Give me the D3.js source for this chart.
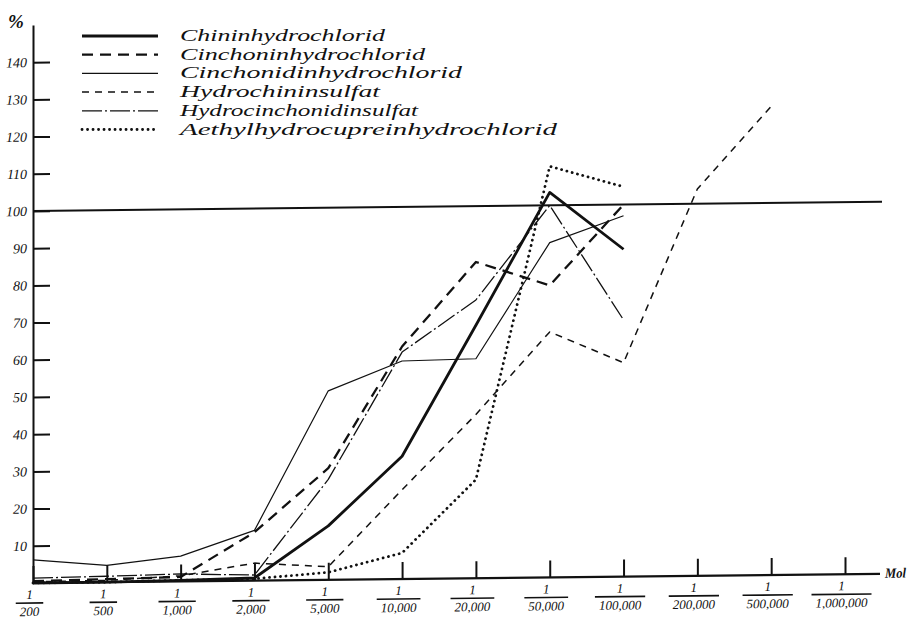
<!DOCTYPE html>
<html>
<head>
<meta charset="utf-8">
<title>Chinin-Alkaloide</title>
<script src="https://d3js.org/d3.v7.min.js"></script>
<style>
  body { margin: 0; background: #fff; }
  svg { display: block; }
</style>
</head>
<body>
<div id="chart"></div>
<script>

// dilution steps (1 : n)
const categories = ["200", "500", "1,000", "2,000", "5,000", "10,000", "20,000",
                    "50,000", "100,000", "200,000", "500,000", "1,000,000"];
const yTicks = [10, 20, 30, 40, 50, 60, 70, 80, 90, 100, 110, 120, 130, 140];

// series values in %, read from the plate (null = not measured)
const chinin           = [0, 0, 0.3, 0.7, 14.5, 33, 68, 103.5, 88, null, null, null];
const cinchonin        = [0.5, 0.8, 1.2, 13, 30, 62.5, 85, 78.5, 100, null, null, null];
const cinchonidin      = [6.2, 4.5, 6.8, 13.5, 50.8, 58.6, 59, 90, 97, null, null, null];
const hydrochinin      = [0.3, 0.5, 1.5, 4.7, 3.5, 24, 44, 66, 57.5, 104, 126, null];
const hydrocinchonidin = [1.3, 1.6, 2, 1.5, 27, 61, 74.8, 100, 69, null, null, null];
const aethyl           = [0, 0, 0.3, 0.5, 2, 7, 26.5, 110.5, 104.8, null, null, null];

const seriesNames = ["Chininhydrochlorid", "Cinchoninhydrochlorid", "Cinchonidinhydrochlorid",
                     "Hydrochininsulfat", "Hydrocinchonidinsulfat", "Aethylhydrocupreinhydrochlorid"];
const seriesValues = [chinin, cinchonin, cinchonidin, hydrochinin, hydrocinchonidin, aethyl];

// stroke styles for each series
const styles = [
  {w: 2.8, dash: null},
  {w: 2.3, dash: "11,7"},
  {w: 1.2, dash: null},
  {w: 1.5, dash: "7,6"},
  {w: 1.3, dash: "20,3,2,3"},
  {w: 2.8, dash: "0.1,5.4", cap: "round"}
];
const legendWidths = [205, 245, 282, 200, 238, 377];

const ink = "#111";
const W = 908, H = 621;

const svg = d3.select("#chart").append("svg")
    .attr("width", W)
    .attr("height", H);

// the plate is drawn slightly askew, so the plot gets a small skew
const plot = svg.append("g")
    .attr("transform", "translate(33,583) skewY(-0.62) translate(-33,-583)");

var x = d3.scalePoint()
  .domain(categories)
  .range([33, 845]);

var y = d3.scaleLinear()
  .domain([0, 150])
  .range([583, 583 - 150 * 3.72]);

// Y axis, ticks pointing into the plot
var yAxis = plot.append("g")
  .attr("transform", "translate(33,0)")
  .call(d3.axisLeft(y).tickValues(yTicks).tickSizeInner(-17).tickSizeOuter(0).tickPadding(6));
yAxis.select(".domain").attr("stroke", ink).attr("stroke-width", 2);
yAxis.selectAll(".tick line").attr("stroke", ink).attr("stroke-width", 2);
yAxis.selectAll(".tick text")
  .attr("fill", ink)
  .style("font-family", "'Liberation Serif', serif")
  .style("font-style", "italic")
  .style("font-size", "14px");

// 100 % line
plot.append("line")
  .attr("x1", x.range()[0]).attr("x2", 882)
  .attr("y1", y(100)).attr("y2", y(100))
  .attr("stroke", ink).attr("stroke-width", 2);

// X axis
var xAxis = plot.append("g")
  .attr("transform", "translate(0," + y(0) + ")")
  .call(d3.axisBottom(x).tickSizeInner(-17).tickSizeOuter(0).tickFormat(""));
xAxis.select(".domain").remove();
xAxis.selectAll(".tick line").attr("stroke", ink).attr("stroke-width", 2);

plot.append("line")
  .attr("x1", x.range()[0]).attr("x2", 880)
  .attr("y1", y(0)).attr("y2", y(0))
  .attr("stroke", ink).attr("stroke-width", 2.2);

// fraction labels 1 / n
var lab = xAxis.selectAll(".tick").append("g")
  .attr("transform", "translate(-4,0)")
  .style("font-family", "'Liberation Serif', serif")
  .style("font-style", "italic")
  .style("font-size", "13px")
  .attr("fill", ink);
lab.append("text")
  .attr("y", 16)
  .attr("text-anchor", "middle")
  .text("1");
lab.append("text")
  .attr("class", "den")
  .attr("y", 33)
  .attr("text-anchor", "middle")
  .text(function(d) { return d; });
lab.each(function() {
  var g = d3.select(this);
  var w = g.select(".den").node().getComputedTextLength() + 8;
  g.append("line")
    .attr("x1", -w / 2).attr("x2", w / 2)
    .attr("y1", 20).attr("y2", 20)
    .attr("stroke", ink).attr("stroke-width", 1.6);
});

// Mol label
plot.append("text")
  .attr("x", 885).attr("y", y(0) + 4)
  .attr("fill", ink)
  .attr("textLength", 21)
  .attr("lengthAdjust", "spacingAndGlyphs")
  .style("font-family", "'Liberation Serif', serif")
  .style("font-style", "italic")
  .style("font-weight", "bold")
  .style("font-size", "14px")
  .text("Mol");

// series lines
var line = d3.line()
  .defined(function(d) { return d != null; })
  .x(function(d, i) { return x(categories[i]); })
  .y(function(d) { return y(d); });

seriesValues.forEach(function(vals, k) {
  var s = styles[k];
  plot.append("path")
    .datum(vals)
    .attr("d", line)
    .attr("fill", "none")
    .attr("stroke", ink)
    .attr("stroke-width", s.w)
    .attr("stroke-dasharray", s.dash)
    .attr("stroke-linecap", s.cap || "butt")
    .attr("stroke-linejoin", "round");
});

// % label
svg.append("text")
  .attr("x", 8).attr("y", 28)
  .attr("fill", ink)
  .style("font-family", "'Liberation Serif', serif")
  .style("font-style", "italic")
  .style("font-weight", "bold")
  .style("font-size", "19px")
  .text("%");

// legend
var legend = svg.append("g")
  .selectAll("g")
  .data(seriesNames)
  .enter()
  .append("g")
    .attr("transform", function(d, i) { return "translate(0," + (36 + i * 18.7) + ")"; });

legend.append("line")
  .attr("x1", 82).attr("x2", 158)
  .attr("stroke", ink)
  .attr("stroke-width", function(d, i) { return styles[i].w; })
  .attr("stroke-dasharray", function(d, i) { return styles[i].dash; })
  .attr("stroke-linecap", function(d, i) { return styles[i].cap || "butt"; });

legend.append("text")
  .attr("x", 180).attr("y", 5)
  .attr("fill", ink)
  .attr("textLength", function(d, i) { return legendWidths[i]; })
  .attr("lengthAdjust", "spacingAndGlyphs")
  .style("font-family", "'Liberation Serif', serif")
  .style("font-style", "italic")
  .style("font-size", "16px")
  .text(function(d) { return d; });

</script>
</body>
</html>
